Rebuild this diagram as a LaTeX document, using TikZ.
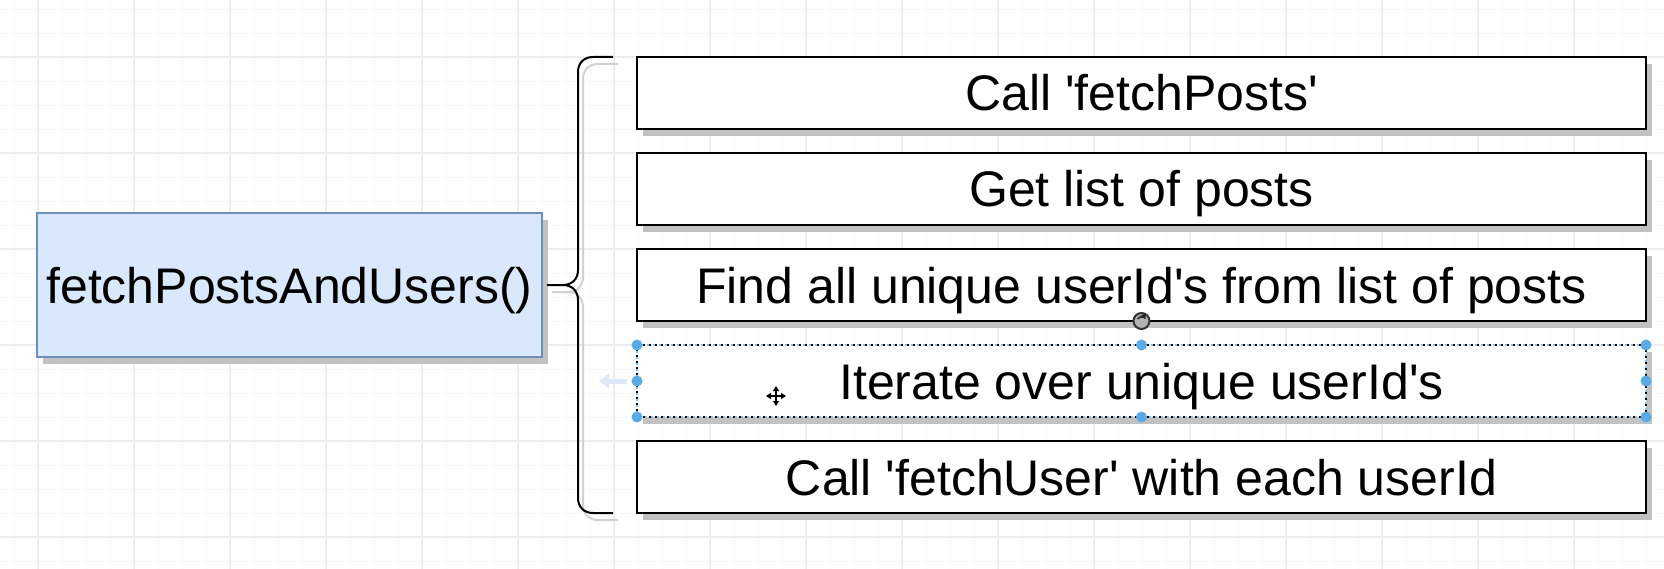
\documentclass[tikz,border=0pt]{standalone}
\usepackage{fontspec}
\setmainfont{Liberation Sans}
\usetikzlibrary{positioning,shadows,arrows.meta}
\definecolor{funcfill}{HTML}{DAE8FC}
\definecolor{funcline}{HTML}{6C8EBF}
\definecolor{selblue}{RGB}{87,172,231}
\definecolor{hintblue}{HTML}{DCEAF8}
\definecolor{gridminor}{HTML}{F8F8F8}
\definecolor{gridmajor}{HTML}{EDEDED}
\tikzset{>={Triangle[length=5pt,width=6pt]},
  boxshadow/.style={general shadow={fill=black!24, shadow xshift=6pt, shadow yshift=-7pt}},
  boxtext/.style={font=\fontsize{50}{60}\selectfont, text height=36pt, text depth=0pt},
  stepbox/.style={draw=black, line width=2.2pt, fill=white, minimum width=1009pt,
    minimum height=72pt, inner sep=0pt, outer sep=0pt, boxtext, boxshadow},
  selbox/.style={stepbox, line width=1.8pt, dash pattern=on 4pt off 2pt,
    postaction={draw=selblue!70, line width=1.8pt, dash pattern=on 2pt off 4pt, dash phase=4pt}},
  funcbox/.style={draw=funcline, line width=2pt, fill=funcfill, minimum width=505pt,
    minimum height=144pt, inner sep=0pt, outer sep=0pt, boxtext, boxshadow},
  bracket/.style={draw=black, line width=2pt, line join=round,
    preaction={draw=black!18, line width=2pt, transform canvas={shift={(5pt,-7pt)}}}},
  hint/.style={hintblue, line width=5pt, -{Triangle[length=10pt,width=14pt]}},
  rothandle/.style={circle, draw=black!80, fill=black!30, line width=2pt, minimum size=16pt, inner sep=0pt}
}
\begin{document}
\begin{tikzpicture}[x=1pt,y=-1pt]
\useasboundingbox[fill=white] (0,0) rectangle (1664,569);
% grid of the canvas
\foreach \x in {14,38,...,1662} \draw[gridminor] (\x,0) -- (\x,569);
\foreach \y in {9,33,...,569} \draw[gridminor] (0,\y) -- (1664,\y);
\foreach \x in {38,134,...,1662} \draw[gridmajor, line width=1.3pt] (\x,0) -- (\x,569);
\foreach \y in {57,153,...,569} \draw[gridmajor, line width=1.3pt] (0,\y) -- (1664,\y);

\node[stepbox] (S1) at (1141.5,93) {Call \textquotesingle fetchPosts\textquotesingle};
\node[stepbox, below=24pt of S1] (S2) {Get list of posts};
\node[stepbox, below=24pt of S2] (S3) {Find all unique userId\textquotesingle s from list of posts};
\node[selbox, below=24pt of S3] (S4) {Iterate over unique userId\textquotesingle s};
\node[stepbox, below=24pt of S4] (S5) {Call \textquotesingle fetchUser\textquotesingle{} with each userId};
\node[funcbox, left=95pt of S3] (F) {fetchPostsAndUsers()};

% curly bracket from F to the steps
\coordinate (T) at ([xshift=5pt]F.east);
\draw[bracket] (T) -- ++(16,0) .. controls +(9,0) and +(0,9) .. ++(15,-15)
  -- ++(0,-198) .. controls +(0,-9) and +(-9,0) .. ++(15,-15) -- ++(20,0)
  (T) ++(16,0) .. controls +(9,0) and +(0,-9) .. ++(15,15)
  -- ++(0,198) .. controls +(0,9) and +(-9,0) .. ++(15,15) -- ++(20,0);

% selection of S4
\draw[hint] ([xshift=-10pt]S4.west) -- ++(-28,0);
\foreach \a in {north west,north,north east,east,south east,south,south west,west}
  \fill[selblue] (S4.\a) circle (5.5pt);
\node[rothandle] (R) at ([yshift=24pt]S4.north) {};
\draw[black!85, line width=1.5pt, ->] ([shift={(-4pt,2pt)}]R.center) arc (150:30:4.6pt);
\coordinate (M) at ([xshift=139pt,yshift=-15pt]S4.west);
\draw[white, line width=4pt] ([xshift=-10pt]M) -- ([xshift=10pt]M) ([yshift=-10pt]M) -- ([yshift=10pt]M);
\draw[line width=1.8pt, <->] ([xshift=-10pt]M) -- ([xshift=10pt]M);
\draw[line width=1.8pt, <->] ([yshift=-10pt]M) -- ([yshift=10pt]M);
\end{tikzpicture}
\end{document}
